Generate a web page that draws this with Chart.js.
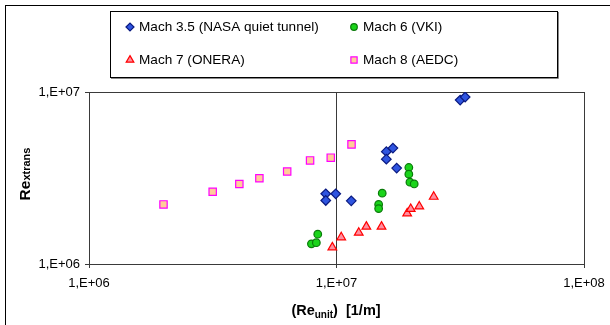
<!DOCTYPE html>
<html>
<head>
<meta charset="utf-8">
<script src="https://cdn.jsdelivr.net/npm/chart.js@4.4.1/dist/chart.umd.min.js"></script>
<style>
  html, body { margin: 0; padding: 0; background: #fff; overflow: hidden; }
  #wrap { position: relative; width: 610px; height: 325px; }
</style>
</head>
<body>
<div id="wrap"><canvas id="chart" width="610" height="325"></canvas></div>
<script>
// --- data (unit Reynolds number vs transition Reynolds number) ---
const seriesNames = ['Mach 3.5 (NASA quiet tunnel)', 'Mach 6 (VKI)', 'Mach 7 (ONERA)', 'Mach 8 (AEDC)'];

const mach35X = [9.05e6, 9.05e6, 9.93e6, 1.147e7, 1.59e7, 1.69e7, 1.59e7, 1.75e7, 3.16e7, 3.31e7];
const mach35Y = [2.56e6, 2.34e6, 2.56e6, 2.33e6, 4.5e6, 4.72e6, 4.07e6, 3.61e6, 8.98e6, 9.35e6];

const mach6X = [8.40e6, 7.92e6, 8.29e6, 1.53e7, 1.48e7, 1.48e7, 1.96e7, 1.96e7, 1.98e7, 2.06e7];
const mach6Y = [1.49e6, 1.31e6, 1.33e6, 2.58e6, 2.22e6, 2.10e6, 3.64e6, 3.33e6, 2.99e6, 2.92e6];

const mach7X = [9.62e6, 1.045e7, 1.23e7, 1.32e7, 1.52e7, 1.93e7, 1.995e7, 2.16e7, 2.47e7];
const mach7Y = [1.25e6, 1.43e6, 1.52e6, 1.65e6, 1.65e6, 1.97e6, 2.09e6, 2.16e6, 2.46e6];

const mach8X = [2.0e6, 3.16e6, 4.05e6, 4.88e6, 6.32e6, 7.82e6, 9.48e6, 1.15e7];
const mach8Y = [2.22e6, 2.63e6, 2.92e6, 3.15e6, 3.45e6, 4.0e6, 4.15e6, 4.96e6];

const xTickValues = [1e6, 1e7, 1e8];
const xTickLabels = ['1,E+06', '1,E+07', '1,E+08'];
const yTickValues = [1e6, 1e7];
const yTickLabels = ['1,E+06', '1,E+07'];

const FONT = '"Liberation Sans", Arial, sans-serif';
const AXIS_COLOR = '#3a3a3a';

function pts(xs, ys) {
  return xs.map((x, i) => ({ x, y: ys[i] }));
}

// marker styles per series (Excel-like)
const markers = [
  { pointStyle: 'rectRot', radius: 4.8, fill: '#2f55e0', stroke: '#0a1a80', legendRadius: 4 },
  { pointStyle: 'circle', radius: 3.8, fill: '#1ad41a', stroke: '#0a7a0a', legendRadius: 3.3 },
  { pointStyle: 'triangle', radius: 5, fill: '#ff8fa0', stroke: '#ff0000', legendRadius: 4.4 },
  { pointStyle: 'rect', radius: 5.2, fill: '#ffcc99', stroke: '#ff00ff', legendRadius: 4.4 },
];

const seriesData = [pts(mach35X, mach35Y), pts(mach6X, mach6Y), pts(mach7X, mach7Y), pts(mach8X, mach8Y)];

const datasets = seriesData.map((d, i) => ({
  label: seriesNames[i],
  data: d,
  showLine: false,
  pointStyle: markers[i].pointStyle,
  pointRadius: markers[i].radius,
  pointHoverRadius: markers[i].radius,
  pointBackgroundColor: markers[i].fill,
  pointBorderColor: markers[i].stroke,
  pointBorderWidth: 1.2,
}));

// legend box, outer frame, and axis titles with subscripts
const decorations = {
  id: 'decorations',
  afterDraw(chart) {
    const ctx = chart.ctx;
    ctx.save();

    // outer chart frame (only left/top edges are inside the picture)
    ctx.strokeStyle = '#000';
    ctx.lineWidth = 1;
    ctx.strokeRect(5.5, 5.5, 800, 500);

    // legend box with a faint shadow
    ctx.strokeStyle = '#888';
    ctx.beginPath();
    ctx.moveTo(558.5, 12); ctx.lineTo(558.5, 78.5); ctx.lineTo(111, 78.5);
    ctx.stroke();
    ctx.strokeStyle = '#000';
    ctx.strokeRect(110.5, 11.5, 447, 66);

    const cols = [130, 354];
    const rows = [27, 60];
    ctx.font = '13.6px ' + FONT;
    ctx.textBaseline = 'middle';
    ctx.textAlign = 'left';
    seriesNames.forEach((name, i) => {
      const cx = cols[i % 2];
      const cy = rows[Math.floor(i / 2)];
      const m = markers[i];
      ctx.fillStyle = m.fill;
      ctx.strokeStyle = m.stroke;
      ctx.lineWidth = 1.2;
      Chart.helpers.drawPoint(ctx, { pointStyle: m.pointStyle, radius: m.legendRadius, rotation: 0, borderWidth: 1.2 }, cx, cy);
      ctx.fillStyle = '#000';
      ctx.fillText(name, cx + 9, cy + 0.5);
    });

    // x title: (Re_unit)  [1/m]
    ctx.fillStyle = '#000';
    ctx.textBaseline = 'alphabetic';
    const big = 'bold 14.5px ' + FONT;
    const small = 'bold 10px ' + FONT;
    const partsX = [['(Re', big, 0], ['unit', small, 3], [')  [1/m]', big, 0]];
    let w = 0;
    partsX.forEach(p => { ctx.font = p[1]; w += ctx.measureText(p[0]).width; });
    let x = 336 - w / 2;
    const base = 315;
    partsX.forEach(p => { ctx.font = p[1]; ctx.fillText(p[0], x, base + p[2]); x += ctx.measureText(p[0]).width; });

    // y title: Re_xtrans (rotated)
    ctx.translate(30, 174);
    ctx.rotate(-Math.PI / 2);
    const partsY = [['Re', 'bold 15.5px ' + FONT, 0], ['xtrans', 'bold 11px ' + FONT, 0]];
    w = 0;
    partsY.forEach(p => { ctx.font = p[1]; w += ctx.measureText(p[0]).width; });
    x = -w / 2;
    partsY.forEach(p => { ctx.font = p[1]; ctx.fillText(p[0], x, p[2]); x += ctx.measureText(p[0]).width; });

    ctx.restore();
  }
};

new Chart(document.getElementById('chart'), {
  type: 'scatter',
  data: { datasets },
  options: {
    responsive: false,
    animation: false,
    devicePixelRatio: 1,
    layout: { padding: { top: 92, right: 26, bottom: 0, left: 0 } },
    plugins: {
      legend: { display: false },
      tooltip: { enabled: false },
    },
    scales: {
      x: {
        type: 'logarithmic',
        min: 1e6,
        max: 1e8,
        afterBuildTicks: (s) => { s.ticks = xTickValues.map(v => ({ value: v })); },
        afterFit: (s) => { s.height = 61; s.paddingLeft = 0; s.paddingRight = 0; },
        ticks: {
          autoSkip: false,
          maxRotation: 0,
          padding: 8,
          color: '#000',
          font: { family: FONT, size: 13 },
          callback: (v, i) => xTickLabels[i],
        },
        grid: { color: AXIS_COLOR, lineWidth: 1, tickLength: 4, drawOnChartArea: true },
        border: { color: AXIS_COLOR, width: 1 },
      },
      y: {
        type: 'logarithmic',
        min: 1e6,
        max: 1e7,
        afterBuildTicks: (s) => { s.ticks = yTickValues.map(v => ({ value: v })); },
        afterFit: (s) => { s.width = 89; },
        ticks: {
          autoSkip: false,
          padding: 5,
          color: '#000',
          font: { family: FONT, size: 13 },
          callback: (v, i) => yTickLabels[i],
        },
        grid: { color: AXIS_COLOR, lineWidth: 1, tickLength: 4, drawOnChartArea: true },
        border: { color: AXIS_COLOR, width: 1 },
      },
    },
  },
  plugins: [decorations],
});
</script>
</body>
</html>
